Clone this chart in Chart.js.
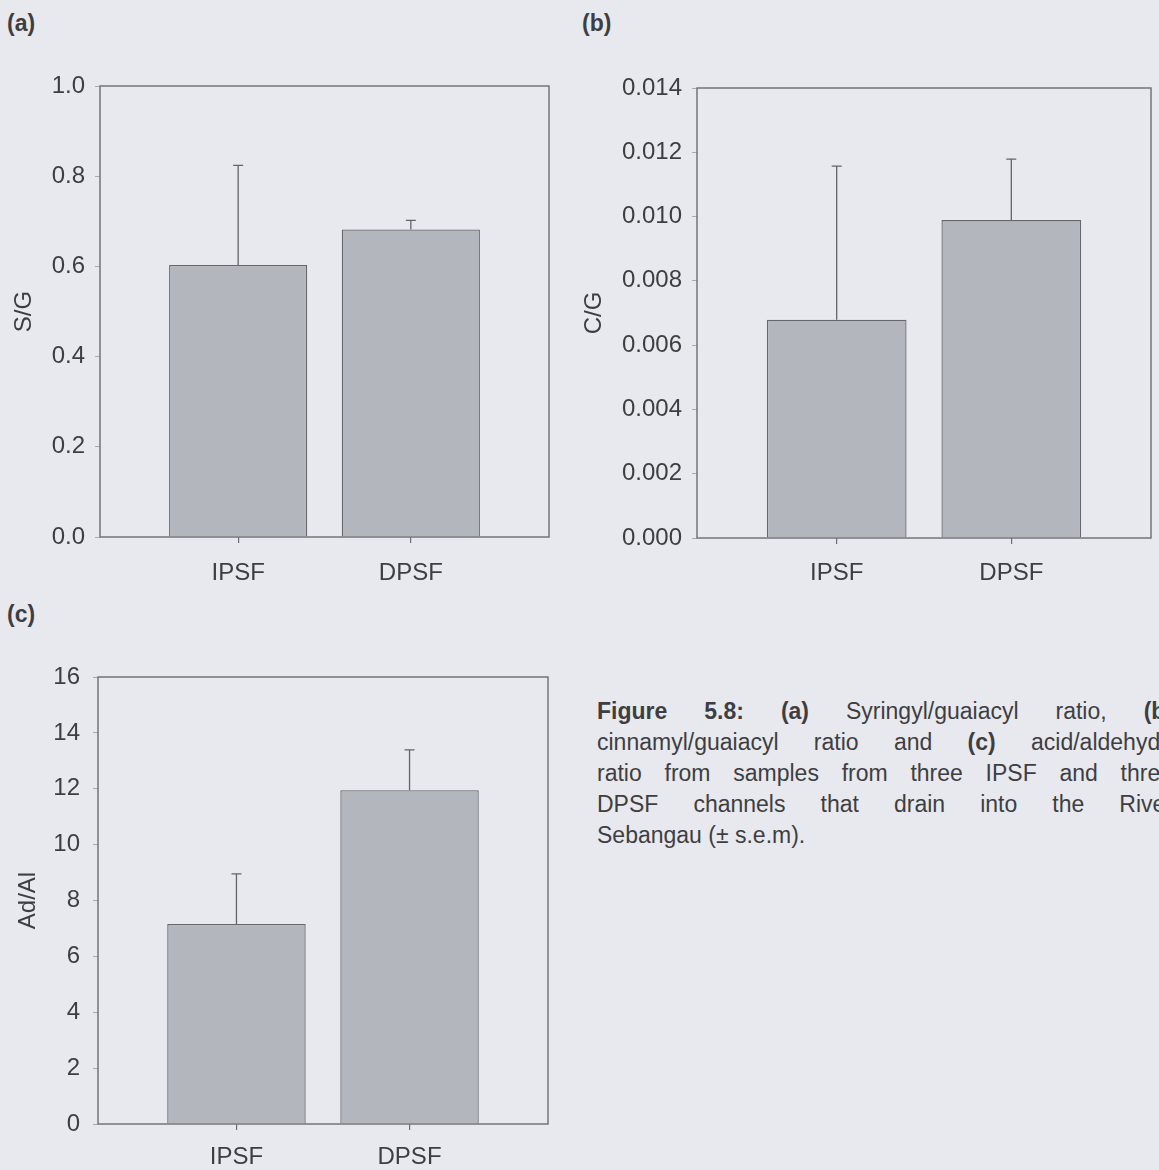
<!DOCTYPE html>
<html>
<head>
<meta charset="utf-8">
<script src="https://cdn.jsdelivr.net/npm/chart.js@4.4.1/dist/chart.umd.min.js"></script>
<style>
  html, body { margin: 0; padding: 0; }
  body {
    width: 1159px; height: 1170px; overflow: hidden; position: relative;
    background: #e8e9ee; font-family: "Liberation Sans", Arial, sans-serif; color: #3e3e42;
  }
  .panel { position: absolute; }
  .tag { position: absolute; font-weight: bold; font-size: 23px; line-height: 23px; }
  .caption {
    position: absolute; left: 597px; top: 696px; width: 576px;
    font-size: 23px; line-height: 31px;
  }
  .caption div { text-align: justify; text-align-last: justify; }
  .caption div.last { text-align-last: left; }
  .caption b { font-weight: bold; }
</style>
</head>
<body>

<div class="tag" style="left:7px; top:12px;">(a)</div>
<div class="tag" style="left:582px; top:12px;">(b)</div>
<div class="tag" style="left:7px; top:603px;">(c)</div>

<canvas id="chartA" class="panel" width="560" height="530" style="left:0px; top:60px;"></canvas>
<canvas id="chartB" class="panel" width="579" height="530" style="left:580px; top:60px;"></canvas>
<canvas id="chartC" class="panel" width="560" height="530" style="left:0px; top:640px;"></canvas>

<div class="caption">
  <div><b>Figure 5.8:</b> <b>(a)</b> Syringyl/guaiacyl ratio, <b>(b)</b></div>
  <div>cinnamyl/guaiacyl ratio and <b>(c)</b> acid/aldehyde</div>
  <div>ratio from samples from three IPSF and three</div>
  <div>DPSF channels that drain into the River</div>
  <div class="last">Sebangau (± s.e.m).</div>
</div>

<script>
// data
const categories = ['IPSF', 'DPSF'];

const sgMean = [0.603, 0.682];
const sgSem = [0.221, 0.020];
const sgTicks = [0, 0.2, 0.4, 0.6, 0.8, 1.0];

const cgMean = [0.00679, 0.00989];
const cgSem = [0.00478, 0.0019];
const cgTicks = [0, 0.002, 0.004, 0.006, 0.008, 0.010, 0.012, 0.014];

const adMean = [7.16, 11.95];
const adSem = [1.79, 1.44];
const adTicks = [0, 2, 4, 6, 8, 10, 12, 14, 16];

const textColor = '#3e3e42';
const fontFamily = '"Liberation Sans", Arial, sans-serif';

// upper error whiskers and the box round the plot
const framePlugin = {
  id: 'frame',
  afterDatasetsDraw(chart, args, opts) {
    const { ctx, chartArea: a, scales: { x, y } } = chart;
    const ds = chart.data.datasets[0];
    ctx.save();
    ctx.strokeStyle = '#636468';
    ctx.lineWidth = 1.3;
    ds.data.forEach((pt, i) => {
      const px = x.getPixelForValue(pt.x);
      const base = y.getPixelForValue(pt.y);
      const top = y.getPixelForValue(pt.y + opts.sem[i]);
      ctx.beginPath();
      ctx.moveTo(px, base);
      ctx.lineTo(px, top);
      ctx.moveTo(px - 5, top);
      ctx.lineTo(px + 5, top);
      ctx.stroke();
    });
    ctx.strokeStyle = '#737478';
    ctx.lineWidth = 1.5;
    ctx.strokeRect(a.left, a.top, a.right - a.left, a.bottom - a.top);
    ctx.restore();
  }
};

function makePanel(id, means, sem, ticks, decimals, title, g) {
  const ctx = document.getElementById(id).getContext('2d');
  return new Chart(ctx, {
    type: 'bar',
    data: {
      datasets: [{
        data: means.map((v, i) => ({ x: i + 1, y: v })),
        backgroundColor: '#b3b6bd',
        borderColor: '#66676c',
        borderWidth: 1.3,
        barPercentage: 0.8,
        categoryPercentage: 1.0
      }]
    },
    options: {
      responsive: false,
      devicePixelRatio: 1,
      animation: false,
      layout: { padding: { top: g.padTop, right: g.padRight, left: 0, bottom: 0 } },
      plugins: {
        legend: { display: false },
        tooltip: { enabled: false },
        frame: { sem: sem }
      },
      scales: {
        x: {
          type: 'linear',
          min: 0.2,
          max: 2.8,
          offset: false,
          afterBuildTicks: (s) => { s.ticks = categories.map((c, i) => ({ value: i + 1 })); },
          afterFit: (s) => { s.height = g.xHeight; },
          border: { display: false },
          grid: { offset: false, drawOnChartArea: false, tickLength: 6, color: '#6c6d72', lineWidth: 1.2 },
          ticks: {
            padding: g.xPad,
            color: textColor,
            font: { family: fontFamily, size: 24 },
            callback: (v) => categories[Math.round(v) - 1]
          }
        },
        y: {
          min: 0,
          max: ticks[ticks.length - 1],
          afterBuildTicks: (s) => { s.ticks = ticks.map(v => ({ value: v })); },
          afterFit: (s) => { s.width = g.yWidth; },
          border: { display: false },
          grid: { drawOnChartArea: false, tickLength: 5, color: '#a9aaae', lineWidth: 1 },
          ticks: {
            padding: g.yPad,
            color: textColor,
            font: { family: fontFamily, size: 24 },
            callback: (v) => Number(v).toFixed(decimals)
          },
          title: {
            display: true,
            text: title,
            color: textColor,
            padding: { top: g.titlePad, bottom: 0 },
            font: { family: fontFamily, size: 24 }
          }
        }
      }
    },
    plugins: [framePlugin]
  });
}

makePanel('chartA', sgMean, sgSem, sgTicks, 1, 'S/G',
  { padTop: 26, padRight: 11, xHeight: 53, yWidth: 100, xPad: 16, yPad: 10, titlePad: 10 });
makePanel('chartB', cgMean, cgSem, cgTicks, 3, 'C/G',
  { padTop: 28, padRight: 8, xHeight: 52, yWidth: 117, xPad: 15, yPad: 10, titlePad: 0 });
makePanel('chartC', adMean, adSem, adTicks, 0, 'Ad/Al',
  { padTop: 37, padRight: 12, xHeight: 46, yWidth: 98, xPad: 13, yPad: 13, titlePad: 14 });
</script>
</body>
</html>
